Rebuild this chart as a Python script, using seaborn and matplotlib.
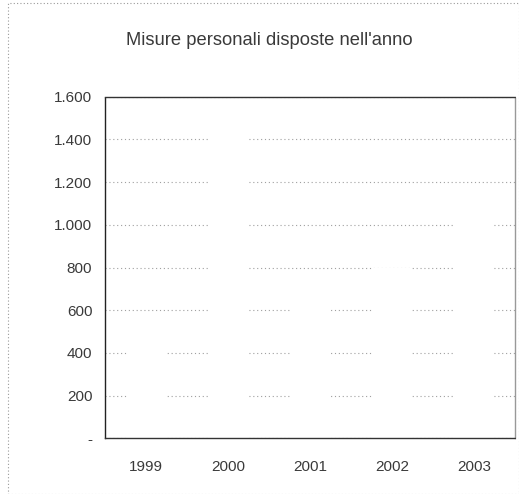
import numpy as np
import pandas as pd
import seaborn as sns
import matplotlib.pyplot as plt
from matplotlib.patches import Rectangle

sns.set_style("white")
plt.rcParams['font.family'] = ['Liberation Sans', 'DejaVu Sans']

# dati (stimati dall'immagine sbiadita)
anni = ["1999", "2000", "2001", "2002", "2003"]
misure = [510, 1450, 720, 800, 1010]
y_ticks = [0, 200, 400, 600, 800, 1000, 1200, 1400, 1600]
y_labels = ["-", "200", "400", "600", "800", "1.000", "1.200", "1.400", "1.600"]

df = pd.DataFrame({"Anno": anni, "Misure": misure})

fig = plt.figure(figsize=(5.19, 4.94), dpi=100)
ax = fig.add_axes([0.202, 0.113, 0.79, 0.691])

sns.barplot(data=df, x="Anno", y="Misure", color="white", width=0.46,
            edgecolor="none", saturation=1, ax=ax, zorder=2)

ax.set_ylim(0, 1600)
ax.set_xlim(-0.5, len(anni) - 0.5)
ax.set_yticks(y_ticks)
ax.set_yticklabels(y_labels)
ax.set_xlabel("")
ax.set_ylabel("")

ax.set_axisbelow(True)
ax.yaxis.grid(True, linestyle=(0, (1, 2.5)), color="#a0a0a0", linewidth=0.8)
ax.xaxis.grid(False)

for side, col in [("left", "#222222"), ("bottom", "#333333"),
                  ("top", "#333333"), ("right", "#999999")]:
    ax.spines[side].set_visible(True)
    ax.spines[side].set_color(col)
    ax.spines[side].set_linestyle((0, (1, 1)))
    ax.spines[side].set_linewidth(1.0)

ax.tick_params(axis="y", length=3, color="#555555", labelsize=11,
               labelcolor="#3a3a3a", pad=6)
ax.tick_params(axis="x", length=0, labelsize=11, labelcolor="#3a3a3a", pad=16)
ax.set_xticks(np.arange(len(anni)) - 0.5, minor=True)
ax.tick_params(axis="x", which="minor", length=3, color="#aaaaaa")

fig.text(0.518, 0.918, "Misure personali disposte nell'anno",
         ha="center", va="center", fontsize=13.2, color="#3a3a3a")

# cornice esterna tratteggiata
fig.patches.append(Rectangle((0.016, 0.0), 0.984, 0.993, transform=fig.transFigure,
                             fill=False, edgecolor="#999999", linewidth=0.8,
                             linestyle=(0, (1, 2))))

fig.savefig("out.png", dpi=100, facecolor="white")
